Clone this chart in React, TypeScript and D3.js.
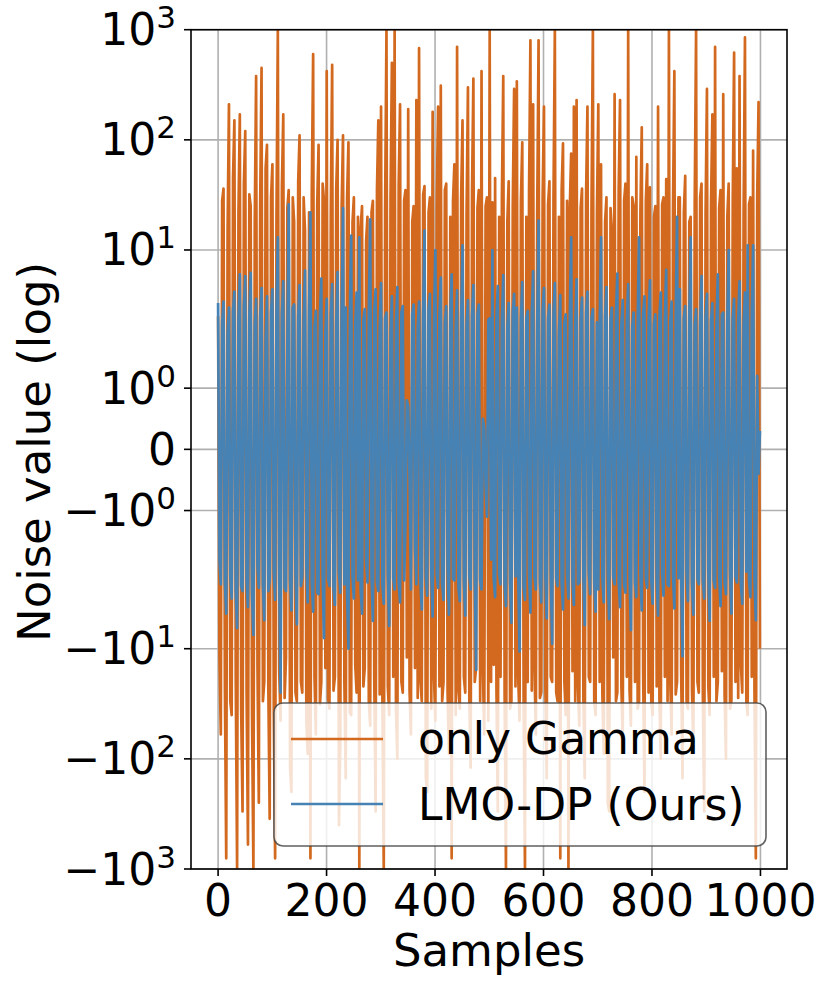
import * as d3 from 'd3';

// noise samples (about every 2.5th sample)
const gammaNoise = [
  2.5, -12, -60, 28, 36, -22, -800, 15, 210, -30, -40, 45, 150, -18, -1000, 22, 170, -35, -300, 40,
  120, -25, -600, 32, 25, -40, -1000, 18, 380, -14, -250, 26, 450, -30, -20, 55, 90, -22, -350, 30,
  60, -35, -800, 20, 1000, -16, -45, 38, 170, -28, -12, 24, 35, -120, -200, 30, 18, -25, -30, 42,
  110, -20, -25, 30, 15, -45, -90, 22, -800, 35, 600, -18, -60, 26, 90, -32, -20, 40, 28, -15,
  420, -28, -35, 22, 480, -24, -18, 36, 100, -400, -70, 25, 110, -20, -150, 30, 95, -38, -40, 18,
  30, -14, -25, 20, -1000, 16, 25, -22, -15, 12, 20, -30, -50, 22, 28, -18, -300, 35, 150, -26,
  200, -30, -1000, 24, 1000, -22, -40, 30, 500, -18, 1000, -35, -100, 40, 210, -20, -25, 28, 35, -12,
  190, -24, -60, 18, 25, -15, 230, -28, 680, -20, -30, 32, 38, -150, -200, 22, 30, -35, 180, -18,
  -45, 26, 200, -22, 310, -30, -20, 35, 40, -25, -90, 20, -800, 28, 60, -40, 700, -24, -35, 30,
  150, -18, -25, 22, 300, -28, -120, 34, 360, -20, -15, 24, 35, -30, 420, -16, -60, 25, 30, -45,
  1000, -20, 27, -14, 45, -24, -300, 20, -18, 30, 380, -26, -1000, 18, 42, -35, -30, 25, 290, -22,
  340, -18, -45, 28, 95, -30, -1000, 20, -20, 35, 800, -24, 210, -15, -60, 22, 800, -28, -25, 30,
  200, -22, -150, 26, 42, -18, -20, 30, 1000, -25, -30, 20, -800, 35, 93, -20, -40, 28, -1000, 24,
  75, -16, 200, -30, 230, -22, -50, 24, 36, -28, -150, 32, 200, -18, -20, 26, 1000, -30, -40, 22,
  210, -20, 60, -26, -90, 18, 30, -250, -300, 24, 15, -12, 260, -30, -25, 35, 230, -22, -70, 28,
  40, -18, 1000, -24, -50, 30, 25, -20, 70, -35, -30, 22, 130, -16, -200, 28, 60, -25, 37, -30,
  -40, 20, 25, -22, 200, -28, -100, 26, 30, -18, 44, -30, 1000, -20, -60, 24, 420, -26, -20, 30,
  30, -16, -150, 22, 47, -30, -35, 18, 20, -24, -80, 28, 1000, -20, -25, 30, 40, -28, -300, 22,
  290, -22, -40, 26, 170, -18, 700, -30, -20, 24, 35, -16, 260, -26, -100, 20, 40, -35, -30, 28,
  620, -20, 55, -28, 380, -14, -25, 22, 850, -30, -40, 26, 30, -18, 80, -24, -800, 30, 220, -10,
];

const lmoNoise = [
  3.3, -1.8, -2.6, 2.2, 3.4, -2.5, -4.8, 1.9, 3.0, -2.2, -3.5, 2.8, 4.2, -3.0, -6.5, 2.4, 6.0, -2.7, -3.0, 3.1,
  5.8, -2.4, -4.2, 2.6, 6.2, -3.2, -7.5, 2.1, 3.6, -1.9, -2.8, 2.5, 4.5, -2.6, -5.5, 1.8, 3.8, -3.0, -2.4, 2.7,
  4.4, -2.0, -3.6, 2.9, 13, -2.2, -25, 2.6, 5.2, -2.8, -3.0, 1.7, 26, -2.4, -4.5, 3.0, 3.2, -2.1, -6.0, 2.5,
  4.8, -2.7, -2.2, 2.3, 6.5, -1.9, -3.8, 2.8, 22, -2.5, -4.6, 2.0, 2.8, -3.1, -3.2, 2.6, 5.5, -2.2, -8.0, 1.9,
  3.6, -2.3, -2.7, 2.5, 4.9, -2.8, -4.0, 2.2, 6.3, -2.0, -3.1, 2.7, 24, -2.6, 3.0, -3.3, -10, 2.4, 13.5, -2.2,
  -3.5, 2.1, 4.1, -2.4, 13, -2.9, -4.8, 2.3, 2.9, -1.8, -2.5, 2.6, 19, -2.2, -5.6, 2.8, 4.4, -2.5, -3.0, 2.0,
  5.0, -2.6, -3.9, 2.4, 2.7, -2.1, -6.2, 1.9, 3.8, -2.3, -2.9, 2.2, 4.6, -2.5, -3.8, 2.7, 3.1, -2.4, -1.2, 0.8,
  0.7, -0.5, -2.9, 2.6, 3.2, -1.6, -2.6, 2.0, 3.4, -2.4, -4.4, 2.5, 15, -2.2, -3.3, 2.9, 4.0, -2.0, -5.1, 2.3,
  10, -2.1, -2.8, 2.6, 5.6, -2.5, -3.6, 2.2, 3.1, -1.9, -4.9, 2.7, 6.0, -2.3, -2.4, 2.0, 4.3, -2.8, -3.7, 2.4,
  11, -2.4, -5.0, 2.1, 3.5, -2.2, -2.9, 2.5, 4.8, -2.0, -15.6, 2.6, 3.2, -2.4, -2.9, 0.5, 0.35, -0.6, -1.1, 2.3,
  2.4, -1.8, 10, -2.3, -3.4, 2.5, 4.7, -2.1, -2.6, 2.2, 5.9, -2.6, -4.1, 2.0, 3.3, -2.4, -5.8, 2.7, 4.0, -2.2,
  3.0, -2.0, -10.6, 2.3, 5.1, -2.7, -3.6, 2.4, 2.8, -2.1, -4.7, 2.6, 6.4, -2.2, -2.9, 2.1, 18.5, -2.5, -3.8, 2.8,
  4.5, -2.2, -5.3, 2.4, 3.2, -2.0, -9, 2.6, 5.0, -2.3, -2.7, 1.9, 3.9, -2.5, -4.4, 2.2, 2.6, -2.1, -3.5, 2.5,
  13, -2.4, -4.0, 2.1, 5.4, -2.6, -2.5, 2.3, 3.7, -2.2, -6.1, 2.7, 4.2, -2.0, -3.2, 2.4, 2.9, -2.5, -4.6, 2.2,
  -2.9, 2.0, 13, -2.3, -3.8, 2.5, 4.6, -2.1, -5.4, 2.4, 3.0, -2.2, -2.6, 2.6, 6.1, -2.4, -4.2, 2.1, 3.5, -2.6,
  -3.1, 2.3, 4.9, -2.2, -6.8, 2.0, 2.7, -2.5, -3.4, 2.4, 13, -2.1, -4.5, 2.6, 3.8, -2.3, -2.8, 2.2, 5.3, -2.4,
  -3.9, 2.1, 2.6, -2.3, -5.0, 2.5, 4.1, -2.0, -3.3, 2.4, 6.6, -2.6, -2.7, 2.2, 3.4, -2.1, -4.3, 2.5, 20, -2.3,
  4.4, -2.2, -11.7, 2.4, 3.1, -2.0, -3.7, 2.6, 13, -2.5, -4.9, 2.1, 2.9, -2.3, -2.6, 2.2, 5.8, -2.4, -3.5, 2.5,
  4.0, -2.1, -5.6, 2.3, 3.3, -2.4, -2.8, 2.0, 6.0, -2.2, -4.1, 2.6, 2.7, -2.5, -3.2, 2.3, 10, -2.0, -4.8, 2.4,
  3.6, -2.2, -2.5, 2.3, 5.2, -2.6, -3.9, 2.1, 4.1, -2.0, 11, -2.4, -3.4, 2.5, 11, -2.3, -5.5, 1.2, -0.4, 0.3,
];

const sampleIdx = d3.range(gammaNoise.length).map((i) => (i * 999) / (gammaNoise.length - 1));

const xTicks = [0, 200, 400, 600, 800, 1000];
const yTicks = [-1000, -100, -10, -1, 0, 1, 10, 100, 1000];
const yTickExp = ['3', '2', '1', '0', '', '0', '1', '2', '3'];

const series = [
  { name: 'only Gamma', color: '#d2691e', values: gammaNoise },
  { name: 'LMO-DP (Ours)', color: '#4682b4', values: lmoNoise },
];

// matplotlib symlog, linthresh=2, linscale=1
const LINTHRESH = 2;
const LINSCALE = 1 / (1 - 1 / 10);
function symlog(v: number) {
  const a = Math.abs(v);
  if (a <= LINTHRESH) return v * LINSCALE;
  return Math.sign(v) * LINTHRESH * (LINSCALE + Math.log10(a / LINTHRESH));
}

const W = 831;
const H = 988;
const plot = { left: 191, right: 787, top: 29.7, bottom: 869 };
const FONT = 'DejaVu Sans, sans-serif';
const LINE_W = 2.7;

export default function App() {
  const x = d3.scaleLinear().domain([-49.95, 1048.95]).range([plot.left, plot.right]);
  const yLin = d3.scaleLinear().domain([symlog(-1000), symlog(1000)]).range([plot.bottom, plot.top]);
  const y = (v: number) => yLin(symlog(v));

  const line = d3
    .line<number>()
    .x((_, i) => x(sampleIdx[i]))
    .y((d) => y(d));

  return (
    <svg width={W} height={H} style={{ position: 'absolute', left: 0, top: 0, background: '#fff' }} fontFamily={FONT}>
      <defs>
        <clipPath id="plotClip">
          <rect x={plot.left} y={plot.top} width={plot.right - plot.left} height={plot.bottom - plot.top} />
        </clipPath>
      </defs>

      {/* grid */}
      <g stroke="#b0b0b0" strokeWidth={1.6}>
        {xTicks.map((t) => (
          <line key={'gx' + t} x1={x(t)} x2={x(t)} y1={plot.top} y2={plot.bottom} />
        ))}
        {yTicks.map((t) => (
          <line key={'gy' + t} x1={plot.left} x2={plot.right} y1={y(t)} y2={y(t)} />
        ))}
      </g>

      <g clipPath="url(#plotClip)" fill="none" strokeWidth={LINE_W} strokeLinejoin="round">
        {series.map((s) => (
          <path key={s.name} d={line(s.values) ?? ''} stroke={s.color} />
        ))}
      </g>

      {/* frame */}
      <rect
        x={plot.left}
        y={plot.top}
        width={plot.right - plot.left}
        height={plot.bottom - plot.top}
        fill="none"
        stroke="#000"
        strokeWidth={1.6}
      />

      {/* x axis */}
      {xTicks.map((t) => (
        <g key={'xt' + t}>
          <line x1={x(t)} x2={x(t)} y1={plot.bottom} y2={plot.bottom + 7} stroke="#000" strokeWidth={1.6} />
          <text x={x(t)} y={916} textAnchor="middle" fontSize={44}>
            {t}
          </text>
        </g>
      ))}
      <text x={(plot.left + plot.right) / 2} y={966} textAnchor="middle" fontSize={45}>
        Samples
      </text>

      {/* y axis */}
      {yTicks.map((t, i) => (
        <g key={'yt' + t}>
          <line x1={plot.left - 7} x2={plot.left} y1={y(t)} y2={y(t)} stroke="#000" strokeWidth={1.6} />
          {t === 0 ? (
            <text x={176} y={y(t) + 16} textAnchor="end" fontSize={44}>
              0
            </text>
          ) : (
            <text x={176} y={y(t) + 15.5} textAnchor="end" fontSize={44}>
              {t < 0 ? '\u221210' : '10'}
              <tspan fontSize={31} dy={-17}>
                {yTickExp[i]}
              </tspan>
            </text>
          )}
        </g>
      ))}
      <text transform="translate(50, 452) rotate(-90)" textAnchor="middle" fontSize={45}>
        Noise value (log)
      </text>

      {/* legend */}
      <rect x={274} y={703} width={492} height={143} rx={9} fill="#fff" fillOpacity={0.8} stroke="#444" strokeOpacity={0.85} strokeWidth={1.6} />
      {series.map((s, i) => (
        <g key={'lg' + s.name}>
          <line x1={291} x2={383} y1={739 + i * 65} y2={739 + i * 65} stroke={s.color} strokeWidth={LINE_W} />
          <text x={418} y={754 + i * 66} fontSize={44}>
            {s.name}
          </text>
        </g>
      ))}
    </svg>
  );
}
